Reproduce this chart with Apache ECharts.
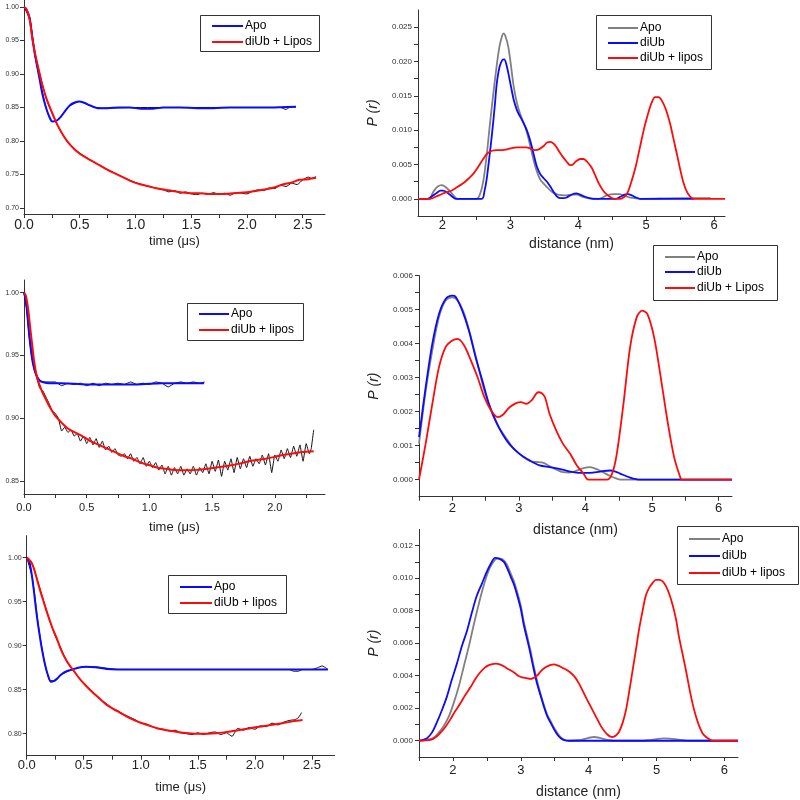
<!DOCTYPE html>
<html>
<head>
<meta charset="utf-8">
<script src="https://cdn.jsdelivr.net/npm/echarts@6/dist/echarts.min.js"></script>
<style>html,body{margin:0;padding:0;background:#fff}#c{width:800px;height:800px}</style>
</head>
<body>
<div id="c"></div>
<script>
// ---------- Panel 1 (top-left): time traces ----------
const p1Apo = [[0,1.0],[0.02,0.997],[0.05,0.984],[0.075,0.954],[0.1,0.927],[0.135,0.897],[0.165,0.870],[0.195,0.851],[0.225,0.837],[0.255,0.829],[0.29,0.830],[0.33,0.836],[0.37,0.845],[0.41,0.853],[0.45,0.857],[0.495,0.859],[0.54,0.857],[0.58,0.854],[0.62,0.851],[0.66,0.849],[0.75,0.849],[0.85,0.850],[0.95,0.850],[1.05,0.848],[1.15,0.848],[1.25,0.850],[1.4,0.850],[1.55,0.849],[1.7,0.849],[1.85,0.850],[2.0,0.850],[2.2,0.850],[2.44,0.851]];
const p1Lipos = [[0,1.0],[0.02,0.997],[0.05,0.982],[0.075,0.953],[0.1,0.930],[0.135,0.904],[0.165,0.883],[0.2,0.864],[0.25,0.843],[0.3,0.824],[0.35,0.809],[0.4,0.797],[0.45,0.788],[0.5,0.781],[0.55,0.776],[0.6,0.771],[0.675,0.764],[0.75,0.757],[0.825,0.751],[0.9,0.745],[0.975,0.739],[1.05,0.735],[1.124,0.732],[1.2,0.729],[1.274,0.727],[1.35,0.725],[1.424,0.723],[1.5,0.722],[1.574,0.722],[1.65,0.721],[1.724,0.721],[1.8,0.721],[1.874,0.722],[1.95,0.723],[2.02,0.724],[2.1,0.726],[2.17,0.728],[2.25,0.731],[2.32,0.735],[2.4,0.738],[2.47,0.742],[2.55,0.743],[2.62,0.745]];
const p1ApoRaw = [[0,1.0],[0.05,0.985],[0.1,0.926],[0.2,0.848],[0.255,0.829],[0.3,0.831],[0.4,0.851],[0.5,0.859],[0.6,0.852],[0.7,0.849],[1.0,0.850],[1.5,0.850],[2.0,0.850],[2.3,0.850],[2.35,0.847],[2.38,0.850],[2.44,0.851]];
const p1LiposRaw = [[0,1.0],[0.05,0.982],[0.1,0.93],[0.2,0.863],[0.3,0.823],[0.4,0.796],[0.5,0.782],[0.6,0.771],[0.7,0.762],[0.8,0.753],[0.9,0.745],[1.0,0.738],[1.1,0.733],[1.2,0.729],[1.25,0.727],[1.30,0.724],[1.35,0.726],[1.40,0.722],[1.45,0.724],[1.50,0.721],[1.55,0.720],[1.60,0.722],[1.65,0.720],[1.70,0.723],[1.75,0.720],[1.80,0.722],[1.85,0.719],[1.90,0.723],[1.95,0.722],[2.00,0.721],[2.05,0.725],[2.10,0.727],[2.15,0.726],[2.20,0.730],[2.25,0.729],[2.30,0.734],[2.35,0.732],[2.40,0.737],[2.45,0.735],[2.50,0.742],[2.55,0.746],[2.58,0.744],[2.62,0.747]];
const p1YLabels = [0.70,0.75,0.80,0.85,0.90,0.95,1.00];
const p1XTicks = [0,0.25,0.5,0.75,1,1.25,1.5,1.75,2,2.25,2.5];
const p1XLabels = [0,0.5,1,1.5,2,2.5];
const p1Legend = ['Apo','diUb + Lipos'];

// ---------- Panel 2 (top-right): distance distributions ----------
const p2Apo = [[1.64,0],[1.8,0],[1.87,0.0011],[1.93,0.0018],[1.99,0.002],[2.05,0.0017],[2.11,0.0011],[2.17,0.0004],[2.22,0],[2.5,0],[2.55,0.0006],[2.6,0.0025],[2.65,0.0062],[2.7,0.011],[2.75,0.0154],[2.8,0.0195],[2.84,0.0222],[2.88,0.0238],[2.9,0.0241],[2.93,0.0236],[2.97,0.0221],[3.01,0.0193],[3.05,0.0163],[3.1,0.0138],[3.14,0.0125],[3.19,0.0112],[3.24,0.0098],[3.29,0.0078],[3.34,0.0057],[3.39,0.0040],[3.44,0.0028],[3.49,0.0022],[3.54,0.0017],[3.59,0.0012],[3.63,0.0009],[3.7,0.0006],[3.8,0.0005],[3.9,0.0006],[3.98,0.0006],[4.06,0.0003],[4.13,0.0001],[4.3,0],[4.36,0.0002],[4.42,0.0005],[4.52,0.0007],[4.6,0.0007],[4.67,0.0005],[4.75,0.0002],[4.83,0.0001],[4.9,0],[5.5,0.0001],[5.95,0.0001]];
const p2DiUb = [[1.64,0],[1.78,0],[1.85,0.0004],[1.92,0.0009],[1.97,0.0012],[2.01,0.0012],[2.06,0.0010],[2.11,0.0006],[2.16,0.0002],[2.2,0],[2.58,0],[2.62,0.0012],[2.65,0.0028],[2.69,0.006],[2.73,0.0095],[2.77,0.0135],[2.8,0.0168],[2.84,0.0192],[2.88,0.0202],[2.91,0.0203],[2.94,0.0196],[2.97,0.0183],[3.01,0.0163],[3.05,0.0144],[3.09,0.0131],[3.12,0.0124],[3.17,0.0115],[3.22,0.0105],[3.26,0.0095],[3.3,0.0082],[3.35,0.0062],[3.39,0.0047],[3.44,0.0036],[3.49,0.0030],[3.53,0.0026],[3.56,0.0022],[3.6,0.0016],[3.63,0.0011],[3.68,0.0004],[3.73,0.0001],[3.78,0.0001],[3.83,0.0002],[3.9,0.0006],[3.97,0.0008],[4.03,0.0006],[4.1,0.0003],[4.16,0.0001],[4.22,0],[4.55,0],[4.62,0.0003],[4.68,0.0006],[4.73,0.0007],[4.79,0.0005],[4.85,0.0002],[4.91,0],[5.7,0]];
const p2Lipos = [[1.64,0],[1.82,0],[1.9,0.0003],[1.97,0.0006],[2.04,0.0009],[2.11,0.0011],[2.2,0.0016],[2.31,0.0023],[2.39,0.0030],[2.46,0.0037],[2.53,0.0047],[2.6,0.0058],[2.66,0.0066],[2.73,0.0070],[2.8,0.0071],[2.88,0.0071],[2.95,0.0072],[3.02,0.0074],[3.09,0.0075],[3.17,0.0075],[3.24,0.0075],[3.3,0.0073],[3.36,0.0071],[3.42,0.0072],[3.49,0.0077],[3.54,0.0082],[3.59,0.0083],[3.64,0.0080],[3.68,0.0075],[3.73,0.0067],[3.78,0.0060],[3.83,0.0054],[3.88,0.0049],[3.92,0.0050],[3.97,0.0055],[4.03,0.0058],[4.08,0.0058],[4.13,0.0054],[4.2,0.0045],[4.25,0.0034],[4.3,0.0023],[4.36,0.0013],[4.42,0.0006],[4.48,0.0002],[4.54,0],[4.62,0],[4.68,0.0003],[4.72,0.0008],[4.76,0.0018],[4.84,0.0045],[4.91,0.0076],[4.97,0.0103],[5.03,0.0125],[5.08,0.0140],[5.13,0.0148],[5.18,0.0148],[5.23,0.0143],[5.29,0.0130],[5.35,0.0110],[5.4,0.0088],[5.45,0.0066],[5.5,0.0043],[5.55,0.0023],[5.6,0.0010],[5.65,0.0003],[5.7,0],[6.16,0]];
const p2YTicks = [0,0.0025,0.005,0.0075,0.01,0.0125,0.015,0.0175,0.02,0.0225,0.025];
const p2YLabels = [0,0.005,0.01,0.015,0.02,0.025];
const p2XTicks = [2,2.5,3,3.5,4,4.5,5,5.5,6];
const p2XLabels = [2,3,4,5,6];
const p2Legend = ['Apo','diUb','diUb + lipos'];

// ---------- Panel 3 (middle-left) ----------
const p3Apo = [[0,1.0],[0.015,0.993],[0.027,0.982],[0.04,0.968],[0.053,0.956],[0.067,0.946],[0.08,0.94],[0.093,0.936],[0.106,0.933],[0.125,0.930],[0.146,0.929],[0.2,0.928],[0.3,0.928],[0.5,0.927],[0.7,0.927],[0.9,0.927],[1.1,0.928],[1.3,0.928],[1.436,0.928]];
const p3Lipos = [[0,1.0],[0.013,0.998],[0.027,0.991],[0.04,0.981],[0.053,0.969],[0.067,0.957],[0.08,0.946],[0.093,0.938],[0.106,0.932],[0.13,0.925],[0.15,0.920],[0.175,0.915],[0.2,0.910],[0.25,0.902],[0.306,0.896],[0.35,0.892],[0.386,0.890],[0.465,0.886],[0.53,0.882],[0.598,0.879],[0.665,0.876],[0.731,0.873],[0.8,0.870],[0.864,0.868],[0.93,0.865],[0.997,0.863],[1.06,0.861],[1.13,0.860],[1.2,0.859],[1.263,0.8588],[1.33,0.8588],[1.396,0.8593],[1.46,0.860],[1.529,0.861],[1.6,0.862],[1.662,0.863],[1.73,0.8645],[1.795,0.866],[1.86,0.867],[1.928,0.868],[2.0,0.8695],[2.06,0.871],[2.13,0.872],[2.19,0.873],[2.25,0.8735],[2.31,0.874]];
const p3ApoRaw = [[0,1.0],[0.02,0.988],[0.04,0.966],[0.06,0.950],[0.08,0.939],[0.1,0.933],[0.15,0.929],[0.2,0.929],[0.25,0.929],[0.3,0.926],[0.35,0.928],[0.4,0.927],[0.45,0.928],[0.5,0.926],[0.55,0.928],[0.6,0.926],[0.65,0.928],[0.7,0.927],[0.75,0.928],[0.8,0.927],[0.85,0.929],[0.9,0.927],[0.95,0.928],[1.0,0.927],[1.05,0.929],[1.1,0.928],[1.15,0.925],[1.2,0.928],[1.25,0.929],[1.3,0.928],[1.35,0.929],[1.4,0.928],[1.44,0.929]];
const p3LiposRaw = [[0,1.0],[0.025,0.985],[0.05,0.962],[0.075,0.945],[0.1,0.933],[0.125,0.924],[0.15,0.922],[0.175,0.917],[0.2,0.912],[0.225,0.906],[0.25,0.904],[0.275,0.900],[0.3,0.890],[0.325,0.893],[0.35,0.889],[0.375,0.891],[0.4,0.886],[0.425,0.888],[0.45,0.882],[0.475,0.886],[0.5,0.880],[0.525,0.885],[0.55,0.879],[0.575,0.884],[0.6,0.877],[0.625,0.882],[0.65,0.875],[0.675,0.878],[0.7,0.873],[0.725,0.876],[0.75,0.871],[0.775,0.870],[0.8,0.872],[0.825,0.868],[0.85,0.872],[0.875,0.866],[0.9,0.869],[0.925,0.864],[0.95,0.869],[0.975,0.862],[1.0,0.866],[1.025,0.861],[1.05,0.865],[1.075,0.859],[1.1,0.863],[1.125,0.856],[1.15,0.862],[1.175,0.855],[1.2,0.861],[1.225,0.856],[1.25,0.862],[1.275,0.855],[1.3,0.860],[1.325,0.856],[1.35,0.862],[1.375,0.855],[1.4,0.861],[1.425,0.857],[1.45,0.864],[1.475,0.856],[1.5,0.866],[1.525,0.858],[1.55,0.867],[1.575,0.854],[1.6,0.866],[1.625,0.859],[1.65,0.868],[1.675,0.857],[1.7,0.869],[1.725,0.860],[1.75,0.868],[1.775,0.861],[1.8,0.870],[1.825,0.862],[1.85,0.868],[1.875,0.864],[1.9,0.871],[1.925,0.863],[1.95,0.872],[1.975,0.857],[2.0,0.871],[2.025,0.866],[2.05,0.875],[2.075,0.868],[2.1,0.876],[2.125,0.869],[2.15,0.878],[2.175,0.870],[2.2,0.879],[2.225,0.866],[2.25,0.880],[2.275,0.872],[2.29,0.876],[2.31,0.891]];
const p3YLabels = [0.85,0.90,0.95,1.00];
const p3XTicks = [0,0.25,0.5,0.75,1,1.25,1.5,1.75,2,2.25];
const p3XLabels = [0,0.5,1,1.5,2];
const p3Legend = ['Apo','diUb + lipos'];

// ---------- Panel 4 (middle-right) ----------
const p4Apo = [[1.5,0.00106],[1.6,0.0026],[1.7,0.0038],[1.8,0.00478],[1.9,0.00527],[2.0,0.00536],[2.08,0.00527],[2.18,0.00487],[2.28,0.00419],[2.38,0.0034],[2.48,0.00262],[2.58,0.00204],[2.68,0.00160],[2.81,0.00122],[2.91,0.00094],[3.06,0.00067],[3.16,0.00055],[3.26,0.00052],[3.36,0.00050],[3.46,0.00040],[3.56,0.00030],[3.66,0.00022],[3.76,0.00021],[3.86,0.00026],[3.97,0.00034],[4.07,0.00037],[4.17,0.00031],[4.27,0.00021],[4.37,0.00011],[4.47,0.00003],[4.52,0],[6.2,0]];
const p4DiUb = [[1.5,0.00125],[1.6,0.00272],[1.7,0.0040],[1.8,0.00487],[1.9,0.00531],[2.0,0.00541],[2.05,0.00538],[2.15,0.00497],[2.25,0.00438],[2.35,0.0036],[2.45,0.00292],[2.55,0.00223],[2.66,0.00170],[2.76,0.00132],[2.86,0.00104],[3.01,0.00076],[3.16,0.00057],[3.31,0.00042],[3.46,0.00037],[3.61,0.00032],[3.77,0.00024],[3.92,0.0002],[4.07,0.0002],[4.22,0.00024],[4.37,0.00027],[4.45,0.00024],[4.52,0.00018],[4.67,0.00006],[4.82,0],[6.2,0]];
const p4Lipos = [[1.5,0],[1.6,0.00106],[1.7,0.00223],[1.8,0.00331],[1.9,0.0039],[2.0,0.00409],[2.08,0.00414],[2.18,0.00394],[2.28,0.0035],[2.38,0.00301],[2.48,0.00243],[2.58,0.00204],[2.68,0.00184],[2.76,0.00191],[2.86,0.00213],[2.96,0.00225],[3.03,0.00228],[3.11,0.00223],[3.19,0.00233],[3.29,0.00257],[3.34,0.00255],[3.39,0.00243],[3.46,0.00194],[3.56,0.00145],[3.66,0.00106],[3.77,0.00076],[3.87,0.00042],[3.97,0.00018],[4.04,0],[4.32,0],[4.40,0.00018],[4.47,0.00076],[4.57,0.00223],[4.67,0.0039],[4.77,0.00478],[4.85,0.00497],[4.93,0.00487],[5.03,0.00419],[5.13,0.00301],[5.23,0.00174],[5.33,0.00067],[5.43,0.00003],[5.45,0],[6.2,0]];
const p4YTicks = [0,0.0005,0.001,0.0015,0.002,0.0025,0.003,0.0035,0.004,0.0045,0.005,0.0055,0.006];
const p4YLabels = [0,0.001,0.002,0.003,0.004,0.005,0.006];
const p4XTicks = [1.5,2,2.5,3,3.5,4,4.5,5,5.5,6];
const p4XLabels = [2,3,4,5,6];
const p4Legend = ['Apo','diUb','diUb + Lipos'];

// ---------- Panel 5 (bottom-left) ----------
const p5Apo = [[0,1.0],[0.02,0.997],[0.044,0.981],[0.065,0.96],[0.087,0.936],[0.11,0.915],[0.131,0.898],[0.16,0.879],[0.185,0.867],[0.213,0.859],[0.24,0.860],[0.27,0.863],[0.3,0.867],[0.35,0.871],[0.4,0.873],[0.45,0.875],[0.52,0.876],[0.6,0.8755],[0.7,0.8735],[0.8,0.873],[1.0,0.873],[1.5,0.873],[2.0,0.873],[2.3,0.873],[2.64,0.873]];
const p5Lipos = [[0,1.0],[0.02,0.998],[0.044,0.994],[0.065,0.987],[0.087,0.977],[0.115,0.964],[0.146,0.951],[0.175,0.939],[0.204,0.928],[0.232,0.918],[0.262,0.909],[0.29,0.899],[0.32,0.890],[0.35,0.883],[0.379,0.877],[0.41,0.872],[0.437,0.867],[0.48,0.860],[0.524,0.854],[0.57,0.848],[0.612,0.843],[0.655,0.838],[0.699,0.833],[0.76,0.828],[0.816,0.824],[0.87,0.820],[0.932,0.816],[1.0,0.8125],[1.078,0.809],[1.15,0.806],[1.224,0.804],[1.3,0.8025],[1.369,0.801],[1.44,0.8003],[1.515,0.800],[1.59,0.800],[1.661,0.8005],[1.73,0.8015],[1.806,0.803],[1.88,0.8045],[1.952,0.806],[2.02,0.8075],[2.098,0.809],[2.17,0.8105],[2.244,0.812],[2.33,0.814],[2.418,0.8155]];
const p5ApoRaw = [[0,1.0],[0.05,0.977],[0.1,0.925],[0.15,0.885],[0.2,0.861],[0.25,0.860],[0.3,0.867],[0.4,0.873],[0.5,0.876],[0.6,0.876],[0.8,0.873],[1.0,0.873],[1.5,0.873],[2.0,0.873],[2.3,0.873],[2.34,0.871],[2.38,0.871],[2.42,0.873],[2.5,0.873],[2.55,0.875],[2.59,0.877],[2.62,0.875],[2.64,0.873]];
const p5LiposRaw = [[0,1.0],[0.05,0.992],[0.1,0.972],[0.15,0.950],[0.2,0.929],[0.25,0.911],[0.3,0.897],[0.35,0.882],[0.4,0.873],[0.45,0.865],[0.5,0.857],[0.55,0.851],[0.6,0.845],[0.65,0.839],[0.7,0.834],[0.75,0.829],[0.8,0.826],[0.85,0.822],[0.9,0.819],[0.95,0.816],[1.0,0.812],[1.05,0.811],[1.1,0.808],[1.15,0.806],[1.2,0.805],[1.25,0.803],[1.3,0.804],[1.35,0.801],[1.4,0.800],[1.45,0.799],[1.5,0.801],[1.55,0.799],[1.6,0.801],[1.65,0.802],[1.7,0.799],[1.75,0.801],[1.8,0.797],[1.85,0.806],[1.9,0.804],[1.95,0.807],[2.0,0.805],[2.05,0.809],[2.1,0.808],[2.15,0.812],[2.2,0.810],[2.25,0.813],[2.3,0.815],[2.35,0.816],[2.38,0.818],[2.41,0.824]];
const p5YLabels = [0.80,0.85,0.90,0.95,1.00];
const p5XTicks = [0,0.25,0.5,0.75,1,1.25,1.5,1.75,2,2.25,2.5];
const p5XLabels = [0,0.5,1,1.5,2,2.5];
const p5Legend = ['Apo','diUb + lipos'];

// ---------- Panel 6 (bottom-right) ----------
const p6Apo = [[1.5,0],[1.6,0.00005],[1.71,0.00016],[1.79,0.0005],[1.86,0.00088],[1.94,0.0015],[2.01,0.0023],[2.09,0.0034],[2.16,0.00457],[2.24,0.0059],[2.31,0.0072],[2.38,0.0084],[2.45,0.0095],[2.52,0.0104],[2.58,0.0109],[2.65,0.0112],[2.7,0.0112],[2.75,0.0111],[2.8,0.0108],[2.85,0.0103],[2.9,0.0098],[2.95,0.0091],[3.0,0.0083],[3.04,0.0074],[3.09,0.0065],[3.14,0.0056],[3.19,0.0046],[3.24,0.0037],[3.29,0.0029],[3.34,0.0022],[3.39,0.0016],[3.44,0.0012],[3.49,0.0008],[3.54,0.00047],[3.59,0.0002],[3.64,0.00006],[3.72,0],[3.85,0.00003],[3.93,0.0001],[4.0,0.00018],[4.08,0.00023],[4.16,0.00018],[4.23,0.0001],[4.3,0.00003],[4.37,0],[4.8,0],[4.9,0.00004],[5.0,0.0001],[5.1,0.00014],[5.2,0.00013],[5.3,0.00008],[5.4,0.00003],[5.46,0],[6.2,0]];
const p6DiUb = [[1.5,0],[1.56,0.00006],[1.62,0.00016],[1.69,0.0005],[1.76,0.0011],[1.83,0.0018],[1.91,0.0027],[1.98,0.0037],[2.06,0.00477],[2.13,0.0058],[2.21,0.0068],[2.28,0.0079],[2.35,0.0089],[2.43,0.0097],[2.5,0.0104],[2.56,0.0109],[2.62,0.01125],[2.68,0.0112],[2.75,0.0110],[2.8,0.0106],[2.85,0.0101],[2.9,0.0096],[2.95,0.0089],[3.0,0.0081],[3.04,0.0072],[3.09,0.0063],[3.14,0.0054],[3.19,0.0044],[3.24,0.0035],[3.29,0.0028],[3.34,0.0021],[3.39,0.0015],[3.44,0.0011],[3.49,0.0007],[3.54,0.00037],[3.59,0.00015],[3.64,0.00004],[3.71,0],[6.2,0]];
const p6Lipos = [[1.5,0],[1.59,0.00002],[1.67,0.00006],[1.74,0.0002],[1.81,0.00047],[1.88,0.0008],[1.96,0.0013],[2.03,0.0018],[2.11,0.0023],[2.18,0.0028],[2.26,0.0033],[2.33,0.0038],[2.4,0.0042],[2.47,0.0045],[2.53,0.00465],[2.58,0.00472],[2.63,0.00474],[2.69,0.0047],[2.75,0.00458],[2.82,0.0044],[2.9,0.0042],[2.96,0.0040],[3.02,0.0039],[3.08,0.00385],[3.14,0.0038],[3.19,0.00387],[3.24,0.0040],[3.3,0.0043],[3.36,0.0045],[3.43,0.00465],[3.49,0.0047],[3.55,0.00462],[3.61,0.0045],[3.67,0.00437],[3.73,0.0042],[3.8,0.0039],[3.86,0.0035],[3.92,0.0030],[3.98,0.0025],[4.03,0.0021],[4.08,0.0017],[4.13,0.0013],[4.18,0.0009],[4.23,0.0006],[4.28,0.00037],[4.32,0.00025],[4.35,0.00023],[4.4,0.00032],[4.45,0.00057],[4.5,0.0011],[4.55,0.0019],[4.6,0.0031],[4.65,0.0044],[4.7,0.0057],[4.74,0.0068],[4.79,0.0079],[4.84,0.0089],[4.89,0.0094],[4.94,0.0097],[4.99,0.0099],[5.04,0.0099],[5.09,0.0098],[5.14,0.0095],[5.19,0.0090],[5.24,0.0083],[5.29,0.0074],[5.33,0.0064],[5.38,0.0054],[5.43,0.0044],[5.48,0.0033],[5.53,0.0023],[5.58,0.0015],[5.63,0.00088],[5.68,0.00045],[5.73,0.00023],[5.79,0.00006],[5.85,0],[6.2,0]];
const p6YTicks = [0,0.001,0.002,0.003,0.004,0.005,0.006,0.007,0.008,0.009,0.01,0.011,0.012];
const p6YLabels = [0,0.002,0.004,0.006,0.008,0.01,0.012];
const p6XTicks = [1.5,2,2.5,3,3.5,4,4.5,5,5.5,6];
const p6XLabels = [2,3,4,5,6];
const p6Legend = ['Apo','diUb','diUb + lipos'];

// ---------- colours ----------
const BLUE = '#0a0aff', RED = '#ff0a0a', GRAY = '#808080', BLACK = '#111';
const FONT = 'Liberation Sans, Arial, sans-serif';
const AXC = '#333';

const chart = echarts.init(document.getElementById('c'), null, {renderer: 'canvas'});

const grids = [
  {left: 24, top: 0, width: 301, height: 214},
  {left: 418, top: 10, width: 307, height: 206},
  {left: 24, top: 280, width: 301, height: 214},
  {left: 419, top: 275.6, width: 313, height: 221.1},
  {left: 26.7, top: 535.7, width: 308, height: 220},
  {left: 419, top: 529.4, width: 319, height: 228}
];

function xAx(gi, min, max, ticks, labels, name, fs, margin, gap) {
  return {
    type: 'value', gridIndex: gi, min: min, max: max,
    axisLine: {show: true, onZero: false, lineStyle: {color: AXC, width: 1}},
    axisTick: {show: true, length: 4, customValues: ticks, lineStyle: {color: AXC}},
    axisLabel: {customValues: labels, fontSize: fs, color: '#222', margin: margin, fontFamily: FONT,
      formatter: function (v) { return gi % 2 === 0 ? v.toFixed(1) : String(v); }},
    splitLine: {show: false},
    name: name, nameLocation: 'middle', nameGap: gap,
    nameTextStyle: {fontSize: gi % 2 === 0 ? 13 : 14, color: '#222', fontFamily: FONT}
  };
}
function yAx(gi, min, max, ticks, labels, dec, fs, margin, nm) {
  return {
    type: 'value', gridIndex: gi, min: min, max: max,
    axisLine: {show: true, onZero: false, lineStyle: {color: AXC, width: 1}},
    axisTick: {show: true, length: 4, customValues: ticks, lineStyle: {color: AXC}},
    axisLabel: {customValues: labels, fontSize: fs, color: '#333', margin: margin, fontFamily: FONT,
      formatter: function (v) { return v.toFixed(dec); }},
    splitLine: {show: false},
    name: nm || '', nameLocation: 'middle', nameGap: 38,
    nameTextStyle: {fontSize: 14, fontStyle: 'italic', color: '#222', fontFamily: FONT}
  };
}

const xAxes = [
  xAx(0, 0, 2.7, p1XTicks, p1XLabels, 'time (\u03bcs)', 14, 4, 21),
  xAx(1, 1.64, 6.16, p2XTicks, p2XLabels, 'distance (nm)', 13, 3, 21),
  xAx(2, 0, 2.4, p3XTicks, p3XLabels, 'time (\u03bcs)', 11, 8, 27),
  xAx(3, 1.5, 6.2, p4XTicks, p4XLabels, 'distance (nm)', 13, 5, 26),
  xAx(4, 0, 2.7, p5XTicks, p5XLabels, 'time (\u03bcs)', 13, 3, 25),
  xAx(5, 1.5, 6.2, p6XTicks, p6XLabels, 'distance (nm)', 13, 7, 28)
];
const yAxes = [
  yAx(0, 0.691, 1.0104, p1YLabels, p1YLabels, 2, 7, 5),
  yAx(1, -0.0025, 0.0275, p2YTicks, p2YLabels, 3, 8, 6, 'P (r)'),
  yAx(2, 0.84, 1.01, p3YLabels, p3YLabels, 2, 7, 5),
  yAx(3, -0.0005, 0.006, p4YTicks, p4YLabels, 3, 8, 6, 'P (r)'),
  yAx(4, 0.775, 1.025, p5YLabels, p5YLabels, 2, 7, 5),
  yAx(5, -0.001, 0.013, p6YTicks, p6YLabels, 3, 8, 6, 'P (r)')
];

function line(gi, name, data, color, width, smooth) {
  return {
    type: 'line', name: name, xAxisIndex: gi, yAxisIndex: gi, data: data,
    showSymbol: false, symbol: 'none', smooth: smooth === undefined ? 0.3 : smooth,
    lineStyle: {color: color, width: width}, itemStyle: {color: color},
    silent: true, animation: false, clip: true
  };
}

const series = [
  line(0, 'raw', p1ApoRaw, BLACK, 1, 0.2),
  line(0, 'raw', p1LiposRaw, BLACK, 1, 0.2),
  line(0, 'Apo', p1Apo, BLUE, 2),
  line(0, 'diUb + Lipos', p1Lipos, RED, 2),

  line(1, 'Apo', p2Apo, GRAY, 1.8),
  line(1, 'diUb', p2DiUb, BLUE, 1.8),
  line(1, 'diUb + lipos', p2Lipos, RED, 1.8),

  line(2, 'raw', p3ApoRaw, BLACK, 1, 0.1),
  line(2, 'raw', p3LiposRaw, BLACK, 1, 0.1),
  line(2, 'Apo', p3Apo, BLUE, 2),
  line(2, 'diUb + lipos', p3Lipos, RED, 2),

  line(3, 'Apo', p4Apo, GRAY, 1.8),
  line(3, 'diUb', p4DiUb, BLUE, 1.8),
  line(3, 'diUb + Lipos', p4Lipos, RED, 1.8),

  line(4, 'raw', p5ApoRaw, BLACK, 1, 0.2),
  line(4, 'raw', p5LiposRaw, BLACK, 1, 0.2),
  line(4, 'Apo', p5Apo, BLUE, 2),
  line(4, 'diUb + lipos', p5Lipos, RED, 2),

  line(5, 'Apo', p6Apo, GRAY, 1.8),
  line(5, 'diUb', p6DiUb, BLUE, 1.8),
  line(5, 'diUb + lipos', p6Lipos, RED, 1.8)
];

// legend boxes drawn as graphic elements
function legendBox(x, y, w, h, labels, colors, rowY, lineX1, lineX2) {
  const els = [{type: 'rect', shape: {x: x + 0.5, y: y + 0.5, width: w, height: h},
    style: {fill: '#fff', stroke: '#333', lineWidth: 1}, z: 100}];
  labels.forEach(function (lb, i) {
    els.push({type: 'line', shape: {x1: lineX1, y1: rowY[i], x2: lineX2, y2: rowY[i]},
      style: {stroke: colors[i], lineWidth: 2}, z: 101});
    els.push({type: 'text', x: lineX2 + 2, y: rowY[i],
      style: {text: lb, fontSize: 12, fill: '#000', fontFamily: FONT, verticalAlign: 'middle', align: 'left'}, z: 101});
  });
  return els;
}
const graphics = [].concat(
  legendBox(200, 15, 119, 36, p1Legend, [BLUE, RED], [26, 42], 212, 243),
  legendBox(596, 15, 115, 54, p2Legend, [GRAY, BLUE, RED], [28, 43, 58], 608, 638),
  legendBox(187, 303, 116, 37, p3Legend, [BLUE, RED], [314, 330], 199, 229),
  legendBox(653, 245, 124, 55, p4Legend, [GRAY, BLUE, RED], [257, 272, 288], 665, 695),
  legendBox(168, 575, 118, 38, p5Legend, [BLUE, RED], [587, 603], 180, 212),
  legendBox(677, 526, 121, 58, p6Legend, [GRAY, BLUE, RED], [539, 556, 573], 689, 720)
);

chart.setOption({
  animation: false,
  backgroundColor: '#fff',
  grid: grids,
  xAxis: xAxes,
  yAxis: yAxes,
  series: series,
  graphic: graphics
});
</script>
</body>
</html>
